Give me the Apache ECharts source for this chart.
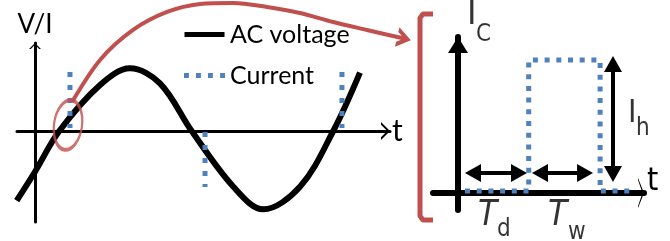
<!DOCTYPE html>
<html>
<head>
<meta charset="utf-8">
<script src="https://cdn.jsdelivr.net/npm/echarts@6/dist/echarts.min.js"></script>
<style>
  html, body { margin: 0; background: #fff; }
  #chart { width: 670px; height: 241px; }
</style>
</head>
<body>
<div id="chart"></div>
<script>
// left panel: phase units (about 0.757 px each) against V/I (voltage peak ~ 1)
var voltage = [[-24.2, -1.106], [0, -0.646], [32.1, 0], [85.9, 0.73], [125.5, 0.995], [165.1, 0.757],
  [207, 0], [262, -0.884], [301.6, -1.243], [350, -0.884], [394, 0], [429.3, 0.926]];
// current spikes: [phase, from, to]
var currentSpikes = [[46.2, 0.937, 0.048], [224.6, -0.016, -0.889], [405.5, 0.937, 0.048]];
// zoom marker around the first spike, the curved pointer and the bracket it points at
// (same units as the left panel, drawn on a hidden full-size overlay)
var markerAt = [43.6, 0.095];
var pointer = [[48.9, 0.46], [85.9, 1.127], [129.5, 1.603], [174.4, 1.889], [218, 2.016], [261.6, 2.032],
  [306.5, 1.968], [350, 1.873], [393.7, 1.73], [438.6, 1.603], [487.5, 1.467]];
var bracket = [[525.8, 1.857], [512.5, 1.857], [508.6, 1.794], [508.6, -1.349], [512.5, -1.413], [525.8, -1.413]];

// right panel: time (Td ~ 1) against Ic (Ih = 1)
var pulse = [[0.1, 0.015], [1.01, 0.015], [1.01, 1], [2.03, 1], [2.03, 0.015], [2.45, 0.015]];
// spans: [from, to] along one axis, at a fixed other value
var tdSpan = [0.1, 0.986], twSpan = [1.057, 1.929], spanLevel = 0.15;
var ihSpan = [0.075, 1.038], ihAt = 2.214;
var labels = [
  { text: 'I', at: [0.129, 1.338], cls: 'big' },
  { text: 'C', at: [0.257, 1.192], cls: 'sub' },
  { text: 'I', at: [2.43, 0.598], cls: 'mid' },
  { text: 'h', at: [2.543, 0.484], cls: 'sub' },
  { text: 'T', at: [0.286, -0.169], cls: 'ital' },
  { text: 'd', at: [0.557, -0.275], cls: 'sub' },
  { text: 'T', at: [1.286, -0.169], cls: 'ital' },
  { text: 'w', at: [1.571, -0.297], cls: 'sub' }
];

var BLACK = '#000', BLUE = '#4F81BD', RED = '#C0504D';
var FONT = 'Lato';
var NARROW = '"Liberation Sans Narrow", "DejaVu Sans Condensed", sans-serif';
var CHEVRON = 'path://M0,10 L10,0 L20,10 L17,10 L10,3 L3,10 Z';
var HEAD = 'path://M0,0 L14,9 L0,18 L0,13.5 L7,9 L0,4.5 Z';
var SOLID_ICON = 'path://M0,0h40v5h-40z';
var DOT_ICON = 'path://M0,0h5v5h-5z M12.3,0h5v5h-5z M24.6,0h5v5h-5z M37,0h5v5h-5z';

var currentData = [];
currentSpikes.forEach(function (s, i) {
  if (i) currentData.push([s[0], '-']);
  currentData.push([s[0], s[1]], [s[0], s[2]]);
});

var pointerData = pointer.map(function (p, i) {
  if (i < pointer.length - 1) return p;
  return { value: p, symbol: HEAD, symbolSize: [14, 20], symbolRotate: -13, itemStyle: { color: RED } };
});

// right panel scale: 70 px per time unit, 133 px per current unit; pull line ends back under the heads
var dx = 8 / 70, dy = 9 / 133;
var spanLines = [
  [{ coord: [tdSpan[0] + dx, spanLevel] }, { coord: [tdSpan[1] - dx, spanLevel] }],
  [{ coord: [twSpan[0] + dx, spanLevel] }, { coord: [twSpan[1] - dx, spanLevel] }],
  [{ coord: [ihAt, ihSpan[0] + dy] }, { coord: [ihAt, ihSpan[1] - dy] }]
];

function plainAxis(extra) {
  var a = {
    type: 'value',
    axisTick: { show: false },
    axisLabel: { show: false },
    splitLine: { show: false }
  };
  for (var k in extra) a[k] = extra[k];
  return a;
}

var chart = echarts.init(document.getElementById('chart'));
chart.setOption({
  animation: false,
  grid: [
    { left: 17, top: 43, width: 373, height: 179, containLabel: false, outerBoundsMode: 'none' },
    { left: 433, top: 37, width: 211, height: 173, containLabel: false, outerBoundsMode: 'none' },
    { left: 0, top: 0, width: 670, height: 241, containLabel: false, outerBoundsMode: 'none' }
  ],
  legend: {
    data: [{ name: 'AC voltage', icon: SOLID_ICON }, { name: 'Current', icon: DOT_ICON }],
    orient: 'vertical',
    left: 179,
    top: 17,
    itemWidth: 41,
    itemHeight: 5,
    itemGap: 16,
    selectedMode: false,
    textStyle: { fontFamily: FONT, fontSize: 25, color: BLACK }
  },
  xAxis: [
    plainAxis({
      gridIndex: 0, min: -23.78, max: 468.96,
      axisLine: { onZero: true, lineStyle: { color: BLACK, width: 3 },
        symbol: ['none', CHEVRON], symbolSize: [18, 9], symbolOffset: [0, -4.5] },
      name: 't', nameLocation: 'end', nameGap: 2,
      nameTextStyle: { fontFamily: FONT, fontSize: 30, color: BLACK }
    }),
    plainAxis({
      gridIndex: 1, min: -0.357, max: 2.657,
      axisLine: { onZero: true, lineStyle: { color: BLACK, width: 6 },
        symbol: ['none', 'path://M0,6 L15,0 L30,6 L28,6 L15,1.5 L2,6 Z'], symbolSize: [30, 6], symbolOffset: [0, -3] },
      name: 't', nameLocation: 'end', nameGap: 3,
      nameTextStyle: { fontFamily: NARROW, fontSize: 32, lineHeight: 22, color: BLACK, verticalAlign: 'bottom' }
    }),
    // overlay in left-panel units, 0.757 px per unit, y axis at x = 35 px
    plainAxis({ gridIndex: 2, min: -46.24, max: 838.84, show: false })
  ],
  yAxis: [
    plainAxis({
      gridIndex: 0, min: -1.444, max: 1.397,
      axisLine: { onZero: true, lineStyle: { color: BLACK, width: 3 },
        symbol: ['none', CHEVRON], symbolSize: [16, 6], symbolOffset: [0, -3] },
      name: 'V/I', nameLocation: 'end', nameGap: 5,
      nameTextStyle: { fontFamily: FONT, fontSize: 26, color: BLACK }
    }),
    plainAxis({
      gridIndex: 1, min: -0.128, max: 1.173,
      axisLine: { onZero: true, lineStyle: { color: BLACK, width: 6 },
        symbol: ['none', 'triangle'], symbolSize: [20, 16], symbolOffset: [0, -8] }
    }),
    // overlay in left-panel units, 63 px per unit, x axis at y = 131 px
    plainAxis({ gridIndex: 2, min: -1.746, max: 2.079, show: false })
  ],
  series: [
    {
      name: 'AC voltage', type: 'line', xAxisIndex: 0, yAxisIndex: 0,
      data: voltage, smooth: 0.35, symbol: 'none', z: 2,
      lineStyle: { color: BLACK, width: 6 }, itemStyle: { color: BLACK }
    },
    {
      name: 'Current', type: 'line', xAxisIndex: 0, yAxisIndex: 0,
      data: currentData, symbol: 'none', z: 3,
      lineStyle: { color: BLUE, width: 5, type: [5, 8], cap: 'butt' }, itemStyle: { color: BLUE }
    },
    {
      type: 'scatter', xAxisIndex: 2, yAxisIndex: 2, clip: false, z: 4, silent: true,
      data: [markerAt], symbol: 'circle', symbolSize: [28, 50], symbolRotate: -8,
      itemStyle: { color: 'rgba(0,0,0,0)', borderColor: RED, borderWidth: 3 }
    },
    {
      type: 'line', xAxisIndex: 2, yAxisIndex: 2, clip: false, z: 4, silent: true,
      data: pointerData, smooth: 0.3, symbol: 'none', showSymbol: true,
      lineStyle: { color: RED, width: 4 }, itemStyle: { color: RED }
    },
    {
      type: 'line', xAxisIndex: 2, yAxisIndex: 2, clip: false, z: 4, silent: true,
      data: bracket, symbol: 'none',
      lineStyle: { color: RED, width: 5 }
    },
    {
      type: 'line', xAxisIndex: 1, yAxisIndex: 1, clip: false, z: 3, silent: true,
      data: pulse, symbol: 'none',
      lineStyle: { color: BLUE, width: 5, type: [5, 6.7], cap: 'butt' },
      markLine: {
        silent: true, symbol: ['triangle', 'triangle'], symbolSize: [18, 16],
        label: { show: false },
        lineStyle: { color: BLACK, width: 4, type: 'solid' },
        data: spanLines
      }
    },
    {
      type: 'scatter', xAxisIndex: 1, yAxisIndex: 1, clip: false, z: 5, silent: true,
      symbol: 'circle', symbolSize: 0, itemStyle: { color: 'rgba(0,0,0,0)' },
      data: labels.map(function (l) { return { value: l.at, text: l.text, cls: l.cls }; }),
      label: {
        show: true, position: 'right', distance: 0,
        formatter: function (p) { return '{' + p.data.cls + '|' + p.data.text + '}'; },
        rich: {
          big: { fontFamily: NARROW, fontSize: 36, color: BLACK },
          mid: { fontFamily: NARROW, fontSize: 32, color: BLACK },
          sub: { fontFamily: NARROW, fontSize: 24, color: BLACK },
          ital: { fontFamily: NARROW, fontSize: 35, fontStyle: 'italic', color: BLACK }
        }
      }
    }
  ]
});
</script>
</body>
</html>
